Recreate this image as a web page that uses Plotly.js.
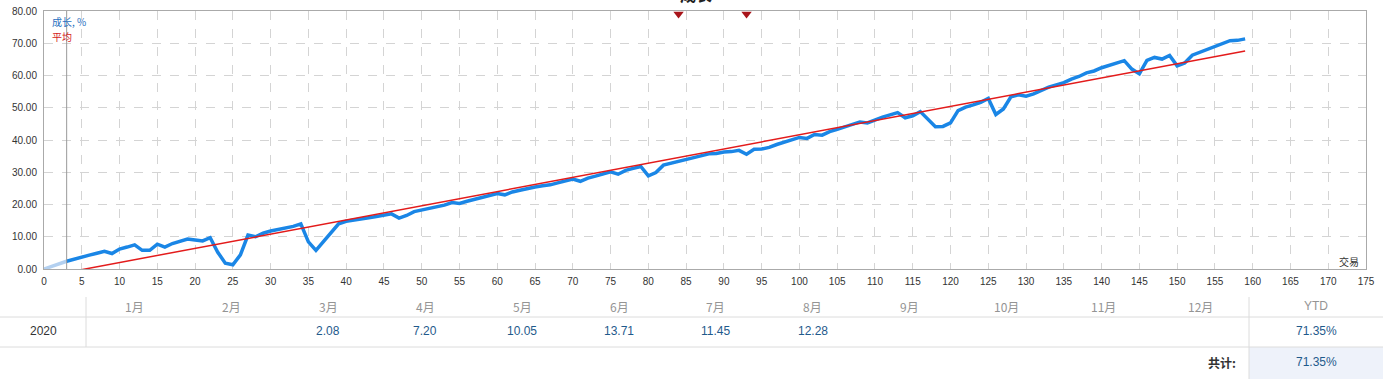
<!DOCTYPE html>
<html>
<head>
<meta charset="utf-8">
<script src="https://cdn.plot.ly/plotly-3.0.1.min.js"></script>
<style>
html,body{margin:0;padding:0;background:#fff;}
#chart{width:1383px;height:379px;}
</style>
</head>
<body>
<div id="chart"></div>
<script>
// ---- data ----
const chartTitle = '成长';
const legendGrowth = '成长, %';
const legendAvg = '平均';
const xAxisLabel = '交易';
const growth = [
  0,0.8,1.6,2.4,3.1,3.7,4.3,4.9,5.5,4.8,
  6.2,6.8,7.5,5.8,5.8,7.7,6.8,7.9,8.6,9.3,
  9.0,8.7,9.7,5.2,1.8,1.3,4.4,10.5,10.0,11.1,
  11.8,12.3,12.6,13.2,14.0,8.4,5.8,8.5,11.6,14.0,
  14.8,15.1,15.5,15.9,16.3,16.8,17.1,15.8,16.6,17.8,
  18.3,18.7,19.1,19.8,20.6,20.3,21.0,21.6,22.2,22.8,
  23.4,23.0,23.9,24.4,25.0,25.4,25.8,26.1,26.7,27.3,
  27.9,27.2,28.2,28.8,29.5,30.1,29.4,30.6,31.2,31.8,
  28.9,29.9,32.2,32.8,33.3,33.9,34.6,35.2,35.7,35.8,
  36.3,36.4,36.8,35.6,37.1,37.2,37.7,38.6,39.3,40.1,
  40.8,40.5,41.7,41.5,42.6,43.3,44.1,45.0,45.6,45.3,
  46.3,47.1,47.8,48.5,46.9,47.5,48.8,46.6,44.1,44.2,
  45.3,49.1,50.2,50.9,51.7,52.9,47.9,49.6,53.4,54.0,
  53.6,54.3,55.5,56.4,57.1,57.8,58.9,59.7,60.8,61.4,
  62.4,63.2,64.0,64.6,62.0,60.5,64.7,65.6,65.1,66.2,
  63.0,63.9,66.3,67.2,68.1,68.9,69.8,70.8,70.9,71.35
];
const startTrade = 3;            // trades before this are drawn faded
const avgX = [0, 159];
const avgY = [-2.4, 67.6];
const eventX = [84, 93];
const eventY = [79.1, 79.1];
const months = ['1月','2月','3月','4月','5月','6月','7月','8月','9月','10月','11月','12月'];
const year = '2020';
const monthly = [null, null, 2.08, 7.20, 10.05, 13.71, 11.45, 12.28, null, null, null, null];
const ytdLabel = 'YTD';
const ytdValue = '71.35%';
const totalLabel = '共计:';
const totalValue = '71.35%';

// ---- layout geometry ----
const W = 1383, H = 379;
const M = {l: 44, r: 17, t: 11, b: 110};
const PW = W - M.l - M.r, PH = H - M.t - M.b;
const px = v => (v - M.l) / PW;
const py = v => (H - M.b - v) / PH;

const FONT = 'Liberation Sans, Arial, "Noto Sans CJK SC", sans-serif';
const CJK = '"Noto Sans CJK SC", "Liberation Sans", sans-serif';

const xs = growth.map((_, i) => i);
const fadeX = xs.slice(0, startTrade + 1), fadeY = growth.slice(0, startTrade + 1);
const mainX = xs.slice(startTrade), mainY = growth.slice(startTrade);

const traces = [
  {x: fadeX, y: fadeY, type: 'scatter', mode: 'lines', line: {color: '#b3d0f0', width: 3.5}, hoverinfo: 'skip'},
  {x: mainX, y: mainY, type: 'scatter', mode: 'lines', line: {color: '#1a86e6', width: 3.5}},
  {x: avgX, y: avgY, type: 'scatter', mode: 'lines', line: {color: '#e31b1b', width: 1.5}},
  {x: eventX, y: eventY, type: 'scatter', mode: 'markers', cliponaxis: false,
   marker: {symbol: 'triangle-down', size: 9, color: '#a8141a'}}
];

const ann = [];
const shapes = [];
// title (partly above the page, as in the original)
ann.push({text: '<b>' + chartTitle + '</b>', xref: 'paper', yref: 'paper', x: px(696), y: py(8), yanchor: 'bottom', xanchor: 'center', showarrow: false, font: {family: CJK, size: 16, color: '#222'}});
// legend
ann.push({text: legendGrowth, xref: 'paper', yref: 'paper', x: px(50), y: py(22), xanchor: 'left', yanchor: 'middle', showarrow: false, font: {family: CJK, size: 10, color: '#2a6fc0'}});
ann.push({text: legendAvg, xref: 'paper', yref: 'paper', x: px(50), y: py(37), xanchor: 'left', yanchor: 'middle', showarrow: false, font: {family: CJK, size: 10, color: '#d41a1a'}});
ann.push({text: xAxisLabel, xref: 'paper', yref: 'paper', x: px(1361), y: py(261), xanchor: 'right', yanchor: 'middle', showarrow: false, font: {family: CJK, size: 10, color: '#333'}});

// start marker line
shapes.push({type: 'line', xref: 'x', yref: 'paper', x0: startTrade, x1: startTrade, y0: 0, y1: 1, line: {color: '#9a9a9a', width: 1}});

// table
const tL = 86, tR = 1249;
const colW = (tR - tL) / months.length;
const yHead = 306, yRow = 331, yTot = 362;
shapes.push({type: 'rect', xref: 'paper', yref: 'paper', x0: px(tR), x1: px(W), y0: py(347), y1: py(H), fillcolor: '#eef2fa', line: {width: 0}, layer: 'below'});
shapes.push({type: 'line', xref: 'paper', yref: 'paper', x0: px(0), x1: px(W), y0: py(317), y1: py(317), line: {color: '#dcdcdc', width: 1}});
shapes.push({type: 'line', xref: 'paper', yref: 'paper', x0: px(0), x1: px(W), y0: py(347), y1: py(347), line: {color: '#dcdcdc', width: 1}});
shapes.push({type: 'line', xref: 'paper', yref: 'paper', x0: px(tL), x1: px(tL), y0: py(297), y1: py(347), line: {color: '#dcdcdc', width: 1}});
shapes.push({type: 'line', xref: 'paper', yref: 'paper', x0: px(tR), x1: px(tR), y0: py(297), y1: py(H), line: {color: '#dcdcdc', width: 1}});

months.forEach((m, i) => {
  const cx = tL + colW * (i + 0.5);
  ann.push({text: m, xref: 'paper', yref: 'paper', x: px(cx), y: py(yHead), xanchor: 'center', yanchor: 'middle', showarrow: false, font: {family: CJK, size: 12, color: '#949494'}});
  if (monthly[i] !== null) {
    ann.push({text: monthly[i].toFixed(2), xref: 'paper', yref: 'paper', x: px(cx), y: py(yRow), xanchor: 'center', yanchor: 'middle', showarrow: false, font: {family: FONT, size: 12, color: '#1f5a8c'}});
  }
});
ann.push({text: year, xref: 'paper', yref: 'paper', x: px(tL / 2), y: py(yRow), xanchor: 'center', yanchor: 'middle', showarrow: false, font: {family: FONT, size: 12, color: '#333'}});
ann.push({text: ytdLabel, xref: 'paper', yref: 'paper', x: px((tR + W) / 2), y: py(yHead), xanchor: 'center', yanchor: 'middle', showarrow: false, font: {family: FONT, size: 12, color: '#949494'}});
ann.push({text: ytdValue, xref: 'paper', yref: 'paper', x: px((tR + W) / 2), y: py(yRow), xanchor: 'center', yanchor: 'middle', showarrow: false, font: {family: FONT, size: 12, color: '#1f5a8c'}});
ann.push({text: '<b>' + totalLabel + '</b>', xref: 'paper', yref: 'paper', x: px(tR - 11), y: py(yTot), xanchor: 'right', yanchor: 'middle', showarrow: false, font: {family: CJK, size: 12, color: '#333'}});
ann.push({text: totalValue, xref: 'paper', yref: 'paper', x: px((tR + W) / 2), y: py(yTot), xanchor: 'center', yanchor: 'middle', showarrow: false, font: {family: FONT, size: 12, color: '#1f5a8c'}});

const layout = {
  width: W, height: H,
  margin: M,
  paper_bgcolor: '#fff', plot_bgcolor: '#fff',
  showlegend: false,
  xaxis: {
    range: [0, 175], dtick: 5, tick0: 0,
    showline: true, mirror: true, linecolor: '#aaaaaa', linewidth: 1,
    showgrid: true, gridcolor: '#d4d4d4', griddash: 'dash', gridwidth: 1,
    zeroline: false, ticks: '', ticklen: 0, ticklabelstandoff: 3,
    tickfont: {family: FONT, size: 10, color: '#333'}
  },
  yaxis: {
    range: [0, 80], dtick: 10, tick0: 0, tickformat: '.2f',
    showline: true, mirror: true, linecolor: '#aaaaaa', linewidth: 1,
    showgrid: true, gridcolor: '#d4d4d4', griddash: 'dash', gridwidth: 1,
    zeroline: false, ticks: '', ticklen: 0, ticklabelstandoff: 4,
    tickfont: {family: FONT, size: 10, color: '#333'}
  },
  annotations: ann,
  shapes: shapes
};

Plotly.newPlot('chart', traces, layout, {displayModeBar: false, staticPlot: true});
</script>
</body>
</html>
